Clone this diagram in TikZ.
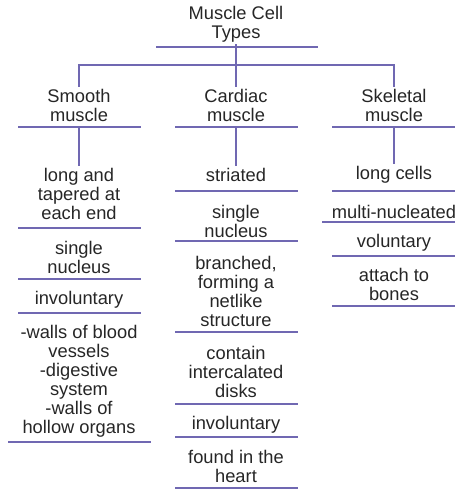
\documentclass[tikz,border=0pt]{standalone}
\usepackage{fontspec}
\setmainfont{Liberation Sans}
\usepackage{xcolor}
\usetikzlibrary{positioning}

\definecolor{rulecol}{RGB}{112,104,178}
\definecolor{inkcol}{RGB}{38,38,38}

\begin{document}
\begin{tikzpicture}[
    x=1pt, y=-1pt,
    txt/.style={
        align=center, inner sep=2pt, text=inkcol,
        font=\fontsize{18.3}{19}\selectfont,
    },
    rule/.style={draw=rulecol, line width=1.7pt},
]
\useasboundingbox (0,0) rectangle (458,491);

% ── Title and the three muscle types ─────────────────────────────────
\node[txt] (title)    at (236,24)  {Muscle Cell\\Types};
\node[txt] (smooth)   at (79,105)  {Smooth\\muscle};
\node[txt] (cardiac)  at (236,105) {Cardiac\\muscle};
\node[txt] (skeletal) at (394,105) {Skeletal\\muscle};

\coordinate (bus)         at (236,65);
\coordinate (smooth-ul)   at (79,127);
\coordinate (cardiac-ul)  at (236,127);
\coordinate (skeletal-ul) at (394,127);

\draw[rule] (156,47) -- (318,47);
\draw[rule] (18,127) -- (141,127);
\draw[rule] (175,127) -- (298,127);
\draw[rule] (332,127) -- (455,127);

% ── Smooth column ────────────────────────────────────────────────────
\node[txt] (sm1) at (79,194)   {long and\\tapered at\\each end};
\node[txt] (sm2) at (79,257.5) {single\\nucleus};
\node[txt] (sm3) at (79,300)   {involuntary};
\node[txt] (sm4) at (79,381)   {-walls of blood\\vessels\\-digestive\\system\\-walls of\\hollow organs};
\draw[rule] (18,228) -- (141,228);
\draw[rule] (18,279) -- (141,279);
\draw[rule] (18,313) -- (141,313);
\draw[rule] (8,442) -- (151,442);

% ── Cardiac column ───────────────────────────────────────────────────
\node[txt] (ca1) at (236,175) {striated};
\node[txt] (ca2) at (236,221) {single\\nucleus};
\node[txt] (ca3) at (236,291) {branched,\\forming a\\netlike\\structure};
\node[txt] (ca4) at (236,372) {contain\\intercalated\\disks};
\node[txt] (ca5) at (236,425) {involuntary};
\node[txt] (ca6) at (236,466) {found in the\\heart};
\draw[rule] (175,191) -- (298,191);
\draw[rule] (175,241) -- (298,241);
\draw[rule] (175,332) -- (298,332);
\draw[rule] (175,404) -- (298,404);
\draw[rule] (175,437) -- (298,437);
\draw[rule] (175,488) -- (298,488);

% ── Skeletal column ──────────────────────────────────────────────────
\node[txt] (sk1) at (394,175)   {long cells};
\node[txt] (sk2) at (394,212)   {multi-nucleated};
\node[txt] (sk3) at (394,243)   {voluntary};
\node[txt] (sk4) at (394,284.5) {attach to\\bones};
\draw[rule] (332,191) -- (455,191);
\draw[rule] (322,222) -- (455,222);
\draw[rule] (332,256) -- (455,256);
\draw[rule] (332,306) -- (455,306);

% ── Tree connectors ──────────────────────────────────────────────────
\draw[rule] (title.south) -- (bus);
\draw[rule] (smooth.north) |- (bus) -| (skeletal.north);
\draw[rule] (bus) -- (cardiac.north);
\draw[rule] (smooth-ul)   -- (sm1.north);
\draw[rule] (cardiac-ul)  -- (ca1.north);
\draw[rule] (skeletal-ul) -- (sk1.north);

\end{tikzpicture}
\end{document}
